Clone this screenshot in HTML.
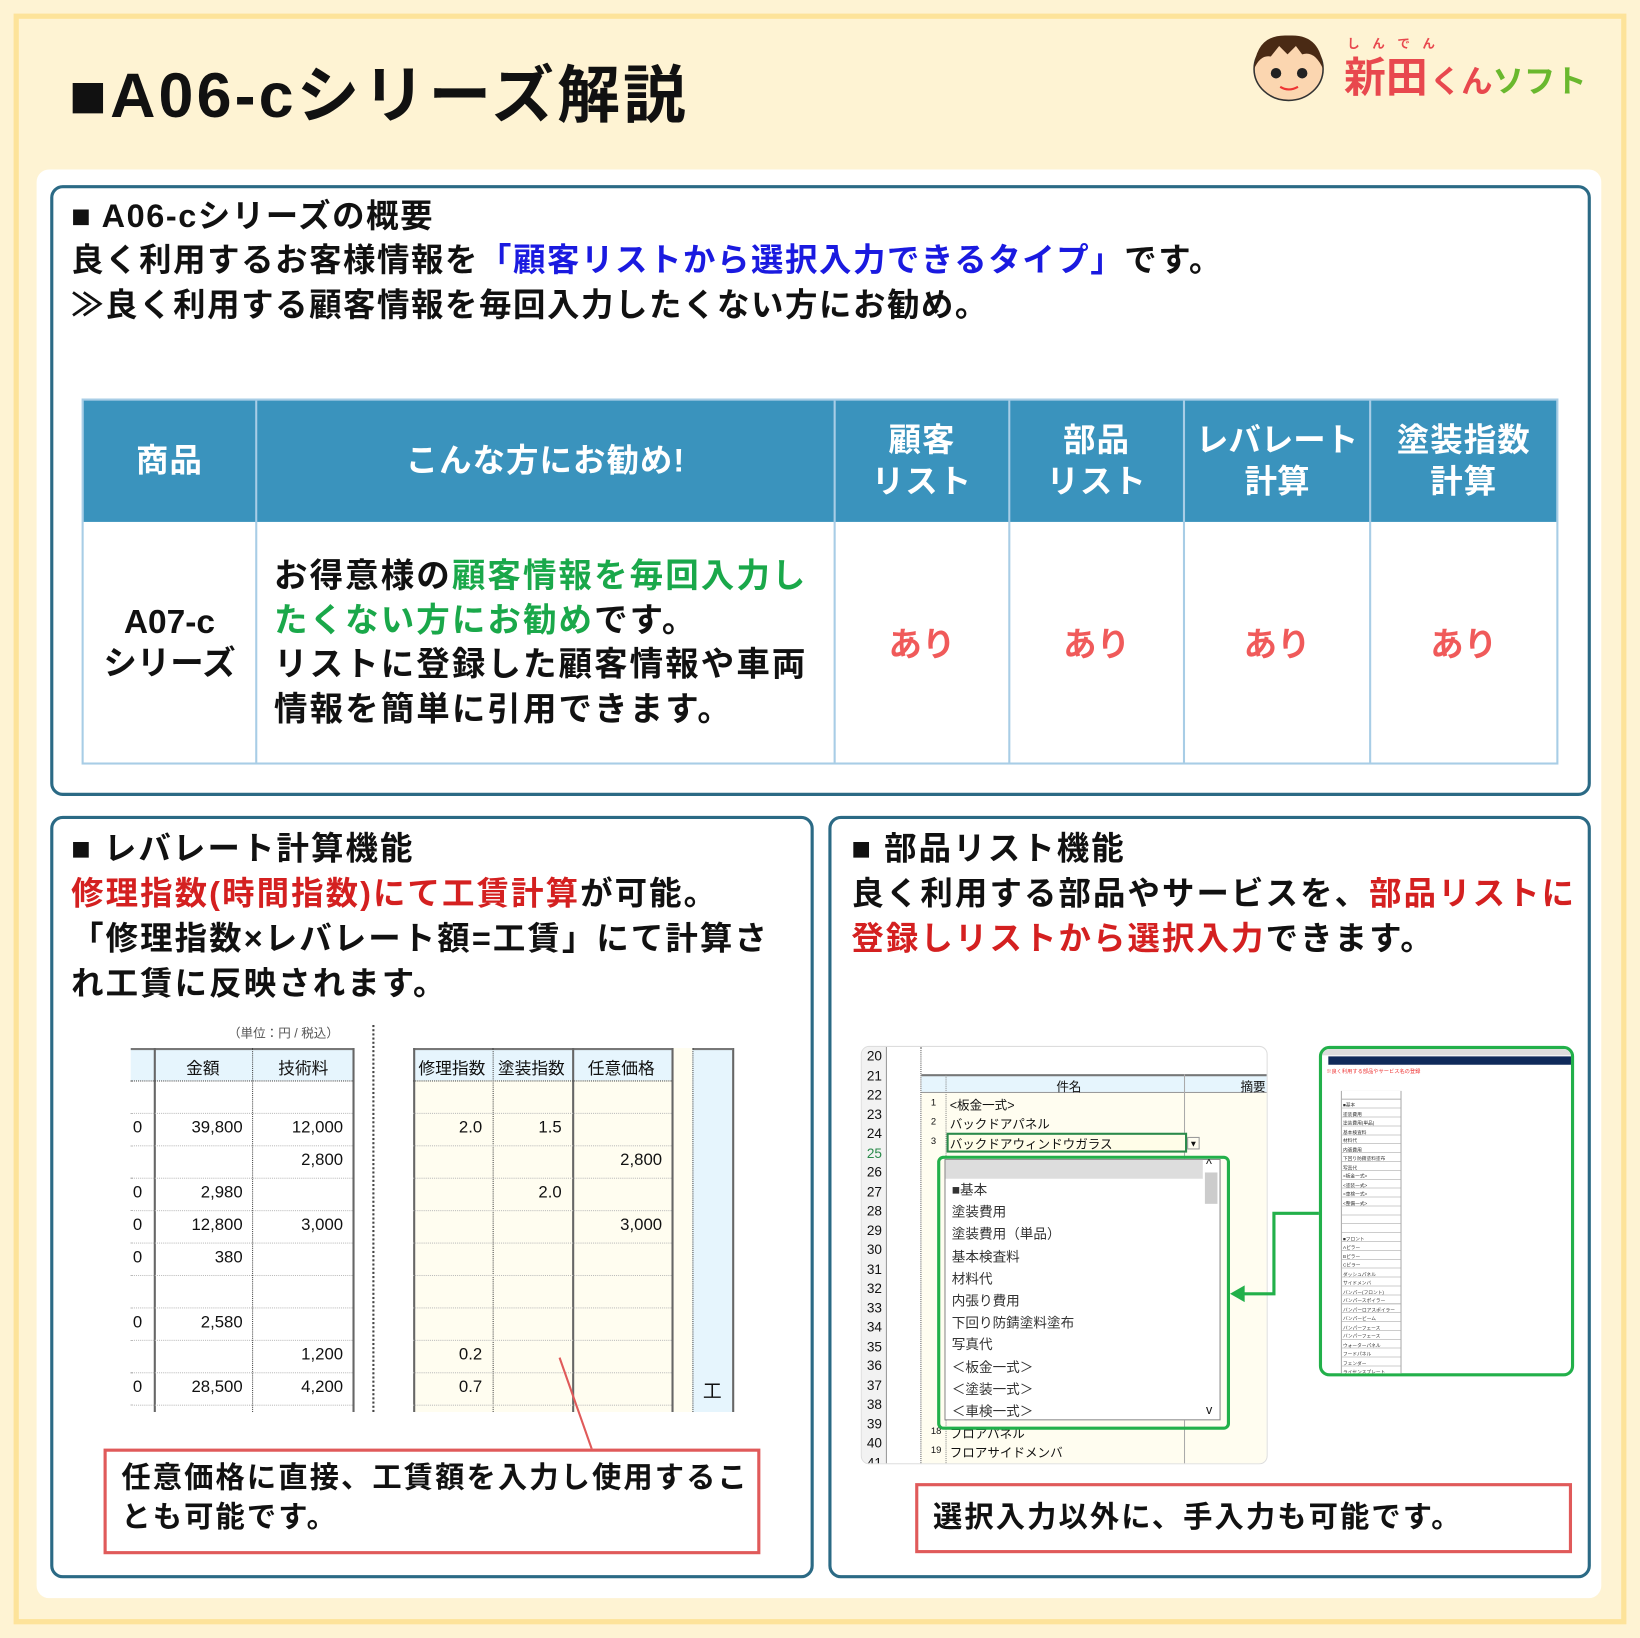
<!DOCTYPE html>
<html><head><meta charset="utf-8"><style>
*{margin:0;padding:0;box-sizing:border-box}
html,body{width:1640px;height:1638px;overflow:hidden;background:#fef3d3}
#w{position:absolute;left:0;top:0;width:1568px;height:1566px;transform:scale(1.04592);transform-origin:0 0;font-family:"Liberation Sans","Noto Sans CJK JP",sans-serif;color:#111}
.a{position:absolute}
.t{position:absolute;white-space:nowrap;font-weight:bold;letter-spacing:1.5px}
.box{position:absolute;border:3px solid #2b6a85;border-radius:12px;background:#fff}
.g{color:#1aa84a}.r{color:#d42020}.b{color:#1a1ae0}.p{color:#f05a5a}
.hd{position:absolute;background:#3a93bd;color:#fff;font-weight:bold;font-size:31px;line-height:40px;text-align:center;display:flex;align-items:center;justify-content:center;border-right:2px solid #a8cde6;letter-spacing:1px}
.cl{position:absolute;border-right:2px solid #a8cde6;display:flex;align-items:center;justify-content:center;font-weight:bold;font-size:32px}
.v{position:absolute;width:0}
.h{position:absolute;height:0;border-top:1px dotted #bbb}
.n{position:absolute;font-size:16px;text-align:right;width:80px}
.sm{position:absolute;font-size:12px;white-space:nowrap}
</style></head><body><div id="w">
<div class="a" style="left:13px;top:13px;width:1542px;height:1540px;border:5px solid #fde39a;background:#fef3d3"></div>
<div class="a" style="left:35px;top:162px;width:1496px;height:1366px;background:#fff;border-radius:12px"></div>
<div class="t" style="left:66px;top:52px;font-size:60px;line-height:80px;letter-spacing:3px">■A06-cシリーズ解説</div>
<svg class="a" style="left:1195px;top:30px" width="330" height="75">
<ellipse cx="37" cy="36" rx="33" ry="30" fill="#fbd6b0" stroke="#333" stroke-width="1.5"/>
<path d="M4 36 Q6 2 37 4 Q68 2 70 36 Q62 18 50 22 L44 14 L36 22 L28 14 L20 24 Q10 22 4 36Z" fill="#4a2a14"/>
<circle cx="25" cy="40" r="5" fill="#222"/><circle cx="50" cy="40" r="5" fill="#222"/>
<path d="M29 53 Q37 58 46 53" stroke="#e33" stroke-width="2" fill="none"/>
<text x="90" y="58" font-size="40" font-weight="bold" fill="#e8484e" font-family="Liberation Sans,Noto Sans CJK JP,sans-serif">新田</text>
<text x="172" y="58" font-size="30" font-weight="bold" fill="#e8484e" font-family="Liberation Sans,Noto Sans CJK JP,sans-serif">くん</text>
<text x="232" y="58" font-size="30" font-weight="bold" fill="#6ab82e" font-family="Liberation Sans,Noto Sans CJK JP,sans-serif">ソフト</text>
<text x="93" y="16" font-size="12" font-weight="bold" fill="#e8484e" font-family="Liberation Sans,Noto Sans CJK JP,sans-serif">し　ん　で　ん</text>
</svg>
<div class="box" style="left:48px;top:177px;width:1473px;height:584px"></div>
<div class="t" style="left:68px;top:186px;font-size:31px;line-height:42px">■ A06-cシリーズの概要</div>
<div class="t" style="left:68px;top:228px;font-size:31px;line-height:42px">良く利用するお客様情報を<span class="b">「顧客リストから選択入力できるタイプ」</span>です。</div>
<div class="t" style="left:68px;top:271px;font-size:31px;line-height:42px">≫良く利用する顧客情報を毎回入力したくない方にお勧め。</div>
<div class="a" style="left:78px;top:381px;width:1412px;height:350px;border:2px solid #a8cde6"></div>
<div class="hd" style="left:80px;top:383px;width:166px;height:116px">商品</div>
<div class="hd" style="left:246px;top:383px;width:553px;height:116px">こんな方にお勧め!</div>
<div class="hd" style="left:799px;top:383px;width:167px;height:116px">顧客<br>リスト</div>
<div class="hd" style="left:966px;top:383px;width:167px;height:116px">部品<br>リスト</div>
<div class="hd" style="left:1133px;top:383px;width:178px;height:116px;letter-spacing:0">レバレート<br>計算</div>
<div class="hd" style="left:1311px;top:383px;width:177px;height:116px;border-right:none">塗装指数<br>計算</div>
<div class="cl" style="left:80px;top:499px;width:166px;height:230px;text-align:center;line-height:40px">A07-c<br>シリーズ</div>
<div class="cl" style="left:246px;top:499px;width:553px;height:230px;justify-content:flex-start"><div style="padding-left:16px;line-height:42.5px;font-size:32px;letter-spacing:2px;white-space:nowrap">お得意様の<span class="g">顧客情報を毎回入力し<br>たくない方にお勧め</span>です。<br>リストに登録した顧客情報や車両<br>情報を簡単に引用できます。</div></div>
<div class="cl p" style="left:799px;top:499px;width:167px;height:230px">あり</div>
<div class="cl p" style="left:966px;top:499px;width:167px;height:230px">あり</div>
<div class="cl p" style="left:1133px;top:499px;width:178px;height:230px">あり</div>
<div class="cl p" style="left:1311px;top:499px;width:177px;height:230px;border-right:none">あり</div>
<div class="box" style="left:48px;top:780px;width:730px;height:729px"></div>
<div class="t" style="left:68px;top:790px;font-size:31px;line-height:43px;letter-spacing:2px">■ レバレート計算機能<br><span class="r">修理指数(時間指数)にて工賃計算</span>が可能。<br>「修理指数×レバレート額=工賃」にて計算さ<br>れ工賃に反映されます。</div>
<div class="sm" style="left:218px;top:979px;color:#555">（単位：円 / 税込）</div>
<div class="a" style="left:356px;top:980px;height:370px;border-left:2px dotted #444"></div>
<div class="a" style="left:125px;top:1002px;width:212px;height:348px;background:#fff"></div>
<div class="a" style="left:125px;top:1002px;width:212px;height:31px;background:#e6f5fd;border-top:2px solid #777"></div>
<div class="a" style="left:395px;top:1002px;width:305px;height:348px;background:#fffdf0"></div>
<div class="a" style="left:395px;top:1002px;width:247px;height:31px;background:#e6f5fd;border-top:2px solid #777"></div>
<div class="a" style="left:662px;top:1002px;width:38px;height:348px;background:#e6f5fd;border-top:2px solid #777"></div>
<div class="a" style="left:147px;top:1002px;height:348px;border-left:2px solid #666"></div>
<div class="a" style="left:241px;top:1002px;height:348px;border-left:1px dotted #444"></div>
<div class="a" style="left:337px;top:1002px;height:348px;border-left:2px solid #666"></div>
<div class="a" style="left:395px;top:1002px;height:348px;border-left:2px solid #666"></div>
<div class="a" style="left:471px;top:1002px;height:348px;border-left:1px dotted #444"></div>
<div class="a" style="left:547px;top:1002px;height:348px;border-left:2px solid #666"></div>
<div class="a" style="left:642px;top:1002px;height:348px;border-left:2px solid #666"></div>
<div class="a" style="left:662px;top:1002px;height:348px;border-left:1px dotted #444"></div>
<div class="a" style="left:700px;top:1002px;height:348px;border-left:2px solid #666"></div>
<div class="h" style="left:125px;top:1033px;width:212px;border-top:1px dotted #444"></div>
<div class="h" style="left:395px;top:1033px;width:247px;border-top:1px dotted #444"></div>
<div class="h" style="left:125px;top:1064px;width:212px"></div><div class="h" style="left:395px;top:1064px;width:247px"></div>
<div class="h" style="left:125px;top:1095px;width:212px"></div><div class="h" style="left:395px;top:1095px;width:247px"></div>
<div class="h" style="left:125px;top:1126px;width:212px"></div><div class="h" style="left:395px;top:1126px;width:247px"></div>
<div class="h" style="left:125px;top:1157px;width:212px"></div><div class="h" style="left:395px;top:1157px;width:247px"></div>
<div class="h" style="left:125px;top:1188px;width:212px"></div><div class="h" style="left:395px;top:1188px;width:247px"></div>
<div class="h" style="left:125px;top:1219px;width:212px"></div><div class="h" style="left:395px;top:1219px;width:247px"></div>
<div class="h" style="left:125px;top:1250px;width:212px"></div><div class="h" style="left:395px;top:1250px;width:247px"></div>
<div class="h" style="left:125px;top:1281px;width:212px"></div><div class="h" style="left:395px;top:1281px;width:247px"></div>
<div class="h" style="left:125px;top:1312px;width:212px"></div><div class="h" style="left:395px;top:1312px;width:247px"></div>
<div class="h" style="left:125px;top:1343px;width:212px"></div><div class="h" style="left:395px;top:1343px;width:247px"></div>
<div class="sm" style="left:178px;top:1008px;font-size:16px">金額</div>
<div class="sm" style="left:266px;top:1008px;font-size:16px">技術料</div>
<div class="sm" style="left:400px;top:1008px;font-size:16px">修理指数</div>
<div class="sm" style="left:476px;top:1008px;font-size:16px">塗装指数</div>
<div class="sm" style="left:562px;top:1008px;font-size:16px">任意価格</div>
<div class="sm" style="left:672px;top:1316px;font-size:18px">工</div>
<div class="n" style="left:152px;top:1070px">39,800</div><div class="n" style="left:248px;top:1070px">12,000</div>
<div class="n" style="left:248px;top:1101px">2,800</div>
<div class="n" style="left:152px;top:1132px">2,980</div>
<div class="n" style="left:152px;top:1163px">12,800</div><div class="n" style="left:248px;top:1163px">3,000</div>
<div class="n" style="left:152px;top:1194px">380</div>
<div class="n" style="left:152px;top:1256px">2,580</div>
<div class="n" style="left:248px;top:1287px">1,200</div>
<div class="n" style="left:152px;top:1318px">28,500</div><div class="n" style="left:248px;top:1318px">4,200</div>
<div class="sm" style="left:127px;top:1070px;font-size:16px">0</div><div class="sm" style="left:127px;top:1132px;font-size:16px">0</div><div class="sm" style="left:127px;top:1163px;font-size:16px">0</div><div class="sm" style="left:127px;top:1194px;font-size:16px">0</div><div class="sm" style="left:127px;top:1256px;font-size:16px">0</div><div class="sm" style="left:127px;top:1318px;font-size:16px">0</div>
<div class="n" style="left:381px;top:1070px">2.0</div><div class="n" style="left:457px;top:1070px">1.5</div>
<div class="n" style="left:553px;top:1101px">2,800</div>
<div class="n" style="left:457px;top:1132px">2.0</div>
<div class="n" style="left:553px;top:1163px">3,000</div>
<div class="n" style="left:381px;top:1287px">0.2</div>
<div class="n" style="left:381px;top:1318px">0.7</div>
<svg class="a" style="left:0;top:0" width="1568" height="1566">
<line x1="535" y1="1298" x2="566" y2="1386" stroke="#e05a5a" stroke-width="2"/>
<line x1="1060" y1="1384" x2="1084" y2="1418" stroke="#e05a5a" stroke-width="2"/>
</svg>
<div class="a" style="left:99px;top:1385px;width:628px;height:101px;border:3px solid #e05a5a;background:#fff"></div>
<div class="t" style="left:116px;top:1394px;font-size:28px;line-height:38px;letter-spacing:2px">任意価格に直接、工賃額を入力し使用するこ<br>とも可能です。</div>
<div class="box" style="left:792px;top:780px;width:729px;height:729px"></div>
<div class="t" style="left:814px;top:790px;font-size:31px;line-height:43px;letter-spacing:2px">■ 部品リスト機能<br>良く利用する部品やサービスを、<span class="r">部品リストに</span><br><span class="r">登録しリストから選択入力</span>できます。</div>
<div class="a" style="left:823px;top:1000px;width:389px;height:400px;background:#fff;border:1px solid #ddd;border-radius:8px;overflow:hidden">
<div class="a" style="left:0;top:0;width:24px;height:400px;background:#f2f2f2;border-right:1px solid #999"></div>
<div class="a" style="left:56px;top:0;height:400px;border-left:1px dotted #555"></div>
<div class="a" style="left:57px;top:26px;width:332px;height:18px;background:#e6f5fd;border-top:2px solid #777;border-bottom:1px solid #999"></div>
<div class="a" style="left:57px;top:44px;width:332px;height:356px;background:#fffdf0"></div>
<div class="a" style="left:80px;top:26px;height:374px;border-left:1px dotted #888"></div>
<div class="a" style="left:308px;top:26px;height:374px;border-left:1px solid #aaa"></div>
<div class="sm" style="left:186px;top:29px">件名</div><div class="sm" style="left:362px;top:29px">摘要</div>
<div class="sm" style="left:66px;top:48px;font-size:9px">1</div><div class="sm" style="left:84px;top:47px">&lt;板金一式&gt;</div>
<div class="sm" style="left:66px;top:66px;font-size:9px">2</div><div class="sm" style="left:84px;top:65px">バックドアパネル</div>
<div class="sm" style="left:66px;top:85px;font-size:9px">3</div>
<div class="a" style="left:81px;top:82px;width:230px;height:19px;border:2px solid #2a8a4a;background:#fffde8"></div>
<div class="sm" style="left:84px;top:84px">バックドアウィンドウガラス</div>
<div class="a" style="left:311px;top:86px;width:12px;height:12px;border:1px solid #999;font-size:8px;text-align:center;line-height:11px">▼</div>
<div class="sm" style="left:66px;top:362px;font-size:9px">18</div><div class="sm" style="left:84px;top:361px">フロアパネル</div>
<div class="sm" style="left:66px;top:380px;font-size:9px">19</div><div class="sm" style="left:84px;top:379px">フロアサイドメンバ</div>
<div class="sm" style="left:2px;top:0px;font-size:13px;line-height:18.5px;width:20px;text-align:center">20<br>21<br>22<br>23<br>24<br><span style="color:#2a8a4a">25</span><br>26<br>27<br>28<br>29<br>30<br>31<br>32<br>33<br>34<br>35<br>36<br>37<br>38<br>39<br>40<br>41</div>
</div>
<div class="a" style="left:896px;top:1105px;width:280px;height:262px;border:3px solid #22b04a;border-radius:6px"></div>
<div class="a" style="left:903px;top:1108px;width:264px;height:250px;border:1px solid #888;background:#fff">
<div class="a" style="left:0;top:0;width:246px;height:18px;background:#ddd"></div>
<div class="a" style="left:248px;top:12px;width:12px;height:30px;background:#ccc"></div>
<div class="sm" style="left:249px;top:-3px">^</div><div class="sm" style="left:249px;top:232px">v</div>
<div class="sm" style="left:6px;top:18px;font-size:13px;line-height:21.2px;color:#333">■基本<br>塗装費用<br>塗装費用（単品）<br>基本検査料<br>材料代<br>内張り費用<br>下回り防錆塗料塗布<br>写真代<br>＜板金一式＞<br>＜塗装一式＞<br>＜車検一式＞</div>
</div>
<div class="a" style="left:1261px;top:1000px;width:244px;height:316px;border:3px solid #22b04a;border-radius:10px;background:#fff;overflow:hidden">
<div class="a" style="left:0;top:0;width:244px;height:6px;background:#ddd"></div>
<div class="a" style="left:6px;top:7px;width:240px;height:8px;background:#0f2a5a"></div>
<div class="a" style="left:18px;top:40px;width:58px;height:276px;border-left:1px solid #aaa;border-right:1px solid #aaa;background:repeating-linear-gradient(#fff 0 7.5px,#ccc 7.5px 8.5px)"></div>
<div class="sm" style="left:4px;top:18px;font-size:5px;color:#e33">※良く利用する部品やサービス名の登録</div>
<div class="sm" style="left:20px;top:50px;font-size:4.5px;line-height:8.5px;color:#333">■基本<br>塗装費用<br>塗装費用(単品)<br>基本検査料<br>材料代<br>内張費用<br>下回り防錆塗料塗布<br>写真代<br>&lt;板金一式&gt;<br>&lt;塗装一式&gt;<br>&lt;車検一式&gt;<br>&lt;整備一式&gt;<br><br><br><br>■フロント<br>Aピラー<br>Bピラー<br>Cピラー<br>ダッシュパネル<br>サイドメンバ<br>バンパー(フロント)<br>バンパースポイラー<br>バンパーロアスポイラー<br>バンパービーム<br>バンパーフェース<br>バンパーフェース<br>ウォーターパネル<br>フードパネル<br>フェンダー<br>ライセンスプレート<br>ラジエータサポート</div>
</div>
<svg class="a" style="left:0;top:0" width="1568" height="1566">
<polyline points="1261,1160 1218,1160 1218,1237 1188,1237" fill="none" stroke="#22b04a" stroke-width="3"/>
<polygon points="1176,1237 1190,1229 1190,1245" fill="#22b04a"/>
</svg>
<div class="a" style="left:875px;top:1418px;width:628px;height:67px;border:3px solid #e05a5a;background:#fff"></div>
<div class="t" style="left:892px;top:1432px;font-size:28px;line-height:38px;letter-spacing:2px">選択入力以外に、手入力も可能です。</div>
</div></body></html>
